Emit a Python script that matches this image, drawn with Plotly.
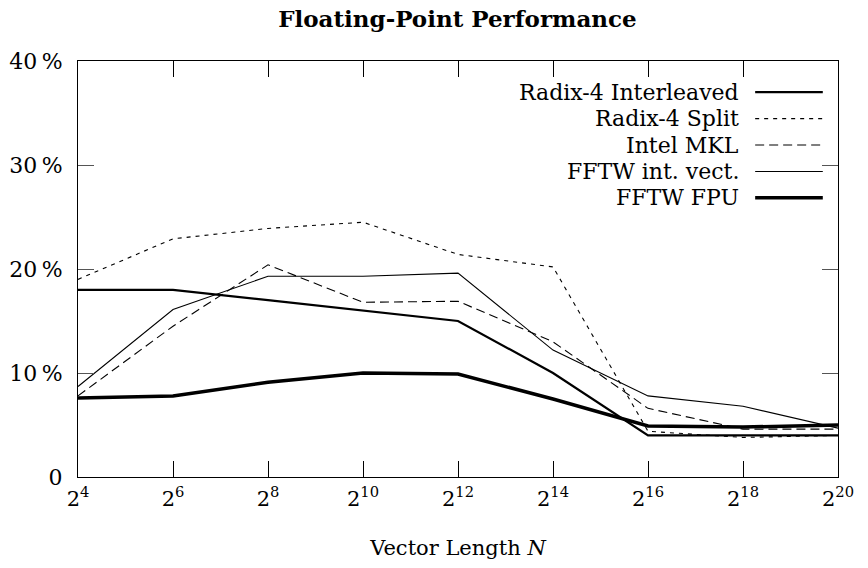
import plotly.graph_objects as go

exponents = [4, 6, 8, 10, 12, 14, 16, 18, 20]
vector_lengths = [2 ** e for e in exponents]
tick_labels = [f"2<sup>{e}</sup>" for e in exponents]

series_names = ["Radix-4 Interleaved", "Radix-4 Split", "Intel MKL", "FFTW int. vect.", "FFTW FPU"]
radix4_interleaved = [18.0, 18.0, 17.0, 16.0, 15.0, 10.0, 4.0, 4.0, 4.0]
radix4_split = [19.0, 22.9, 23.9, 24.5, 21.4, 20.2, 4.4, 3.8, 4.0]
intel_mkl = [7.8, 14.5, 20.4, 16.8, 16.9, 13.0, 6.6, 4.6, 4.6]
fftw_int_vect = [8.7, 16.1, 19.3, 19.3, 19.6, 12.2, 7.8, 6.8, 4.7]
fftw_fpu = [7.6, 7.8, 9.1, 10.0, 9.9, 7.5, 4.9, 4.8, 5.0]
series_values = [radix4_interleaved, radix4_split, intel_mkl, fftw_int_vect, fftw_fpu]

y_ticks = [0, 10, 20, 30, 40]
y_tick_labels = ["0", "10\u2009%", "20\u2009%", "30\u2009%", "40\u2009%"]

styles = [
    dict(width=2.2, dash="solid"),
    dict(width=1.1, dash="4px,5px"),
    dict(width=1.1, dash="9px,5px"),
    dict(width=1.1, dash="solid"),
    dict(width=3.5, dash="solid"),
]

FONT = "DejaVu Serif"

fig = go.Figure()
for name, vals, st in zip(series_names, series_values, styles):
    fig.add_trace(go.Scatter(x=vector_lengths, y=vals, name=name, mode="lines",
                             line=dict(color="black", width=st["width"], dash=st["dash"]),
                             showlegend=False))

# custom legend: text right-aligned, line sample on the right
for i, (name, st) in enumerate(zip(series_names, styles)):
    yp = 0.925 - i * 0.0635
    fig.add_annotation(xref="paper", yref="paper", x=0.872, y=yp, text=name,
                       showarrow=False, xanchor="right", yanchor="middle",
                       font=dict(family=FONT, size=22, color="black"))
    fig.add_shape(type="line", xref="paper", yref="paper", x0=0.891, x1=0.980, y0=yp, y1=yp,
                  line=dict(color="black", width=st["width"], dash=st["dash"]))

fig.update_layout(
    width=868, height=568,
    margin=dict(l=78, r=30, t=61, b=91, autoexpand=False),
    paper_bgcolor="white", plot_bgcolor="white",
    font=dict(family=FONT, size=20, color="black"),
    title=dict(text="<b>Floating-Point Performance</b>", x=0.527, xanchor="center",
               y=0.967, yanchor="middle", font=dict(family=FONT, size=23, color="black")),
)
fig.update_xaxes(type="log", range=[4 * 0.30103, 20 * 0.30103], automargin=False,
                 tickvals=vector_lengths, ticktext=tick_labels,
                 ticks="inside", ticklen=16, tickcolor="black", tickwidth=1,
                 showline=True, linecolor="black", linewidth=1, mirror="ticks",
                 showgrid=False, zeroline=False, ticklabelstandoff=3,
                 title=dict(text="Vector Length <i>N</i>", font=dict(family=FONT, size=21), standoff=30),
                 tickfont=dict(family=FONT, size=21))
fig.update_yaxes(range=[0, 40], tickvals=y_ticks, ticktext=y_tick_labels, automargin=False,
                 ticks="inside", ticklen=16, tickcolor="#555", tickwidth=1,
                 showline=True, linecolor="black", linewidth=1, mirror="ticks",
                 showgrid=False, zeroline=False, ticklabelstandoff=10,
                 tickfont=dict(family=FONT, size=22))

fig.write_html("out.html", config={"displayModeBar": False},
               post_script="document.body.style.margin='0';")
